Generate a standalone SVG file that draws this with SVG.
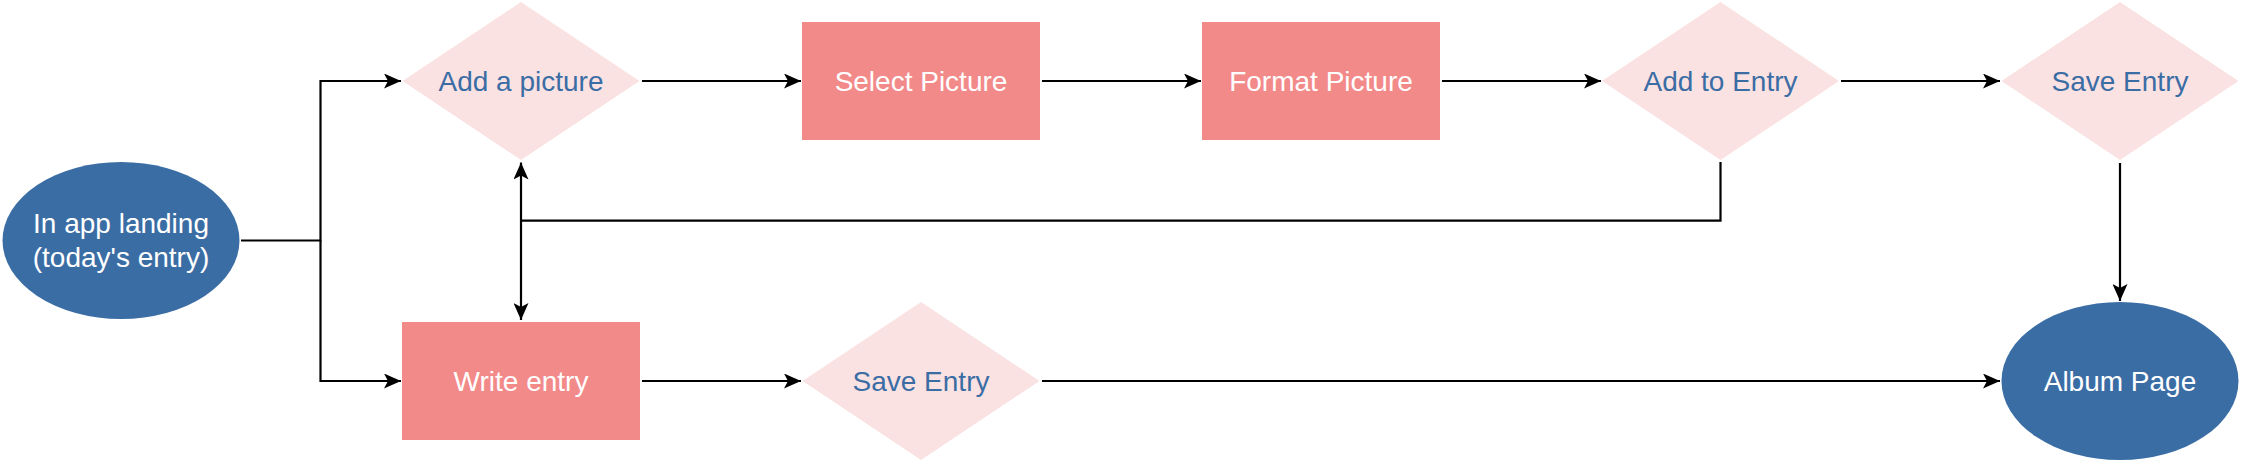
<svg xmlns="http://www.w3.org/2000/svg" width="2242" height="462" viewBox="0 0 2242 462">
<style>
  .ell { fill: #3B6DA5; }
  .rect { fill: #F38A8A; }
  .dia { fill: #FAE2E2; }
  .tw { font-family: "Liberation Sans", Arial, sans-serif; font-size: 28px; fill: #FFFFFF; text-anchor: middle; }
  .tb { font-family: "Liberation Sans", Arial, sans-serif; font-size: 28px; fill: #3B6DA5; text-anchor: middle; }
  .conn { fill: none; stroke: #000000; stroke-width: 2.2; }
</style>
<defs>
  <marker id="arrow" viewBox="0 0 17 15" refX="17" refY="7.5" markerWidth="17" markerHeight="15" markerUnits="userSpaceOnUse" orient="auto-start-reverse">
    <path d="M0,0 L17,7.5 L0,15 L4,7.5 Z" fill="#000000"/>
  </marker>
</defs>
<rect width="2242" height="462" fill="#FFFFFF"/>
<g id="connectors">
  <path class="conn" d="M241,240.5 H320.5 V81 H401" marker-end="url(#arrow)"/>
  <path class="conn" d="M320.5,240.5 V381 H401" marker-end="url(#arrow)"/>
  <path class="conn" d="M642,81 H801" marker-end="url(#arrow)"/>
  <path class="conn" d="M1042,81 H1201" marker-end="url(#arrow)"/>
  <path class="conn" d="M1442,81 H1601" marker-end="url(#arrow)"/>
  <path class="conn" d="M1841,81 H2000" marker-end="url(#arrow)"/>
  <path class="conn" d="M2120,163 V301" marker-end="url(#arrow)"/>
  <path class="conn" d="M642,381 H801" marker-end="url(#arrow)"/>
  <path class="conn" d="M1042,381 H2000" marker-end="url(#arrow)"/>
  <path class="conn" d="M521,162.5 V320" marker-start="url(#arrow)" marker-end="url(#arrow)"/>
  <path class="conn" d="M1720.5,162 V220.7 H521"/>
</g>
<g id="node-landing">
  <ellipse class="ell" cx="121" cy="240.5" rx="118.5" ry="78.5"/>
  <text class="tw" x="121" y="233">In app landing</text>
  <text class="tw" x="121" y="266.5">(today's entry)</text>
</g>
<g id="node-add-picture">
  <polygon class="dia" points="402.5,81 521,2 639.5,81 521,160"/>
  <text class="tb" x="521" y="91">Add a picture</text>
</g>
<g id="node-select-picture">
  <rect class="rect" x="802" y="22" width="238" height="118"/>
  <text class="tw" x="921" y="91">Select Picture</text>
</g>
<g id="node-format-picture">
  <rect class="rect" x="1202" y="22" width="238" height="118"/>
  <text class="tw" x="1321" y="91">Format Picture</text>
</g>
<g id="node-add-to-entry">
  <polygon class="dia" points="1602,81 1720.5,2 1839,81 1720.5,160"/>
  <text class="tb" x="1720.5" y="91">Add to Entry</text>
</g>
<g id="node-save-entry-top">
  <polygon class="dia" points="2001.5,81 2120,2 2238.5,81 2120,160"/>
  <text class="tb" x="2120" y="91">Save Entry</text>
</g>
<g id="node-write-entry">
  <rect class="rect" x="402" y="322" width="238" height="118"/>
  <text class="tw" x="521" y="391">Write entry</text>
</g>
<g id="node-save-entry-bottom">
  <polygon class="dia" points="802.5,381 921,302 1039.5,381 921,460"/>
  <text class="tb" x="921" y="391">Save Entry</text>
</g>
<g id="node-album-page">
  <ellipse class="ell" cx="2120" cy="381" rx="118.5" ry="79"/>
  <text class="tw" x="2120" y="391">Album Page</text>
</g>
</svg>
